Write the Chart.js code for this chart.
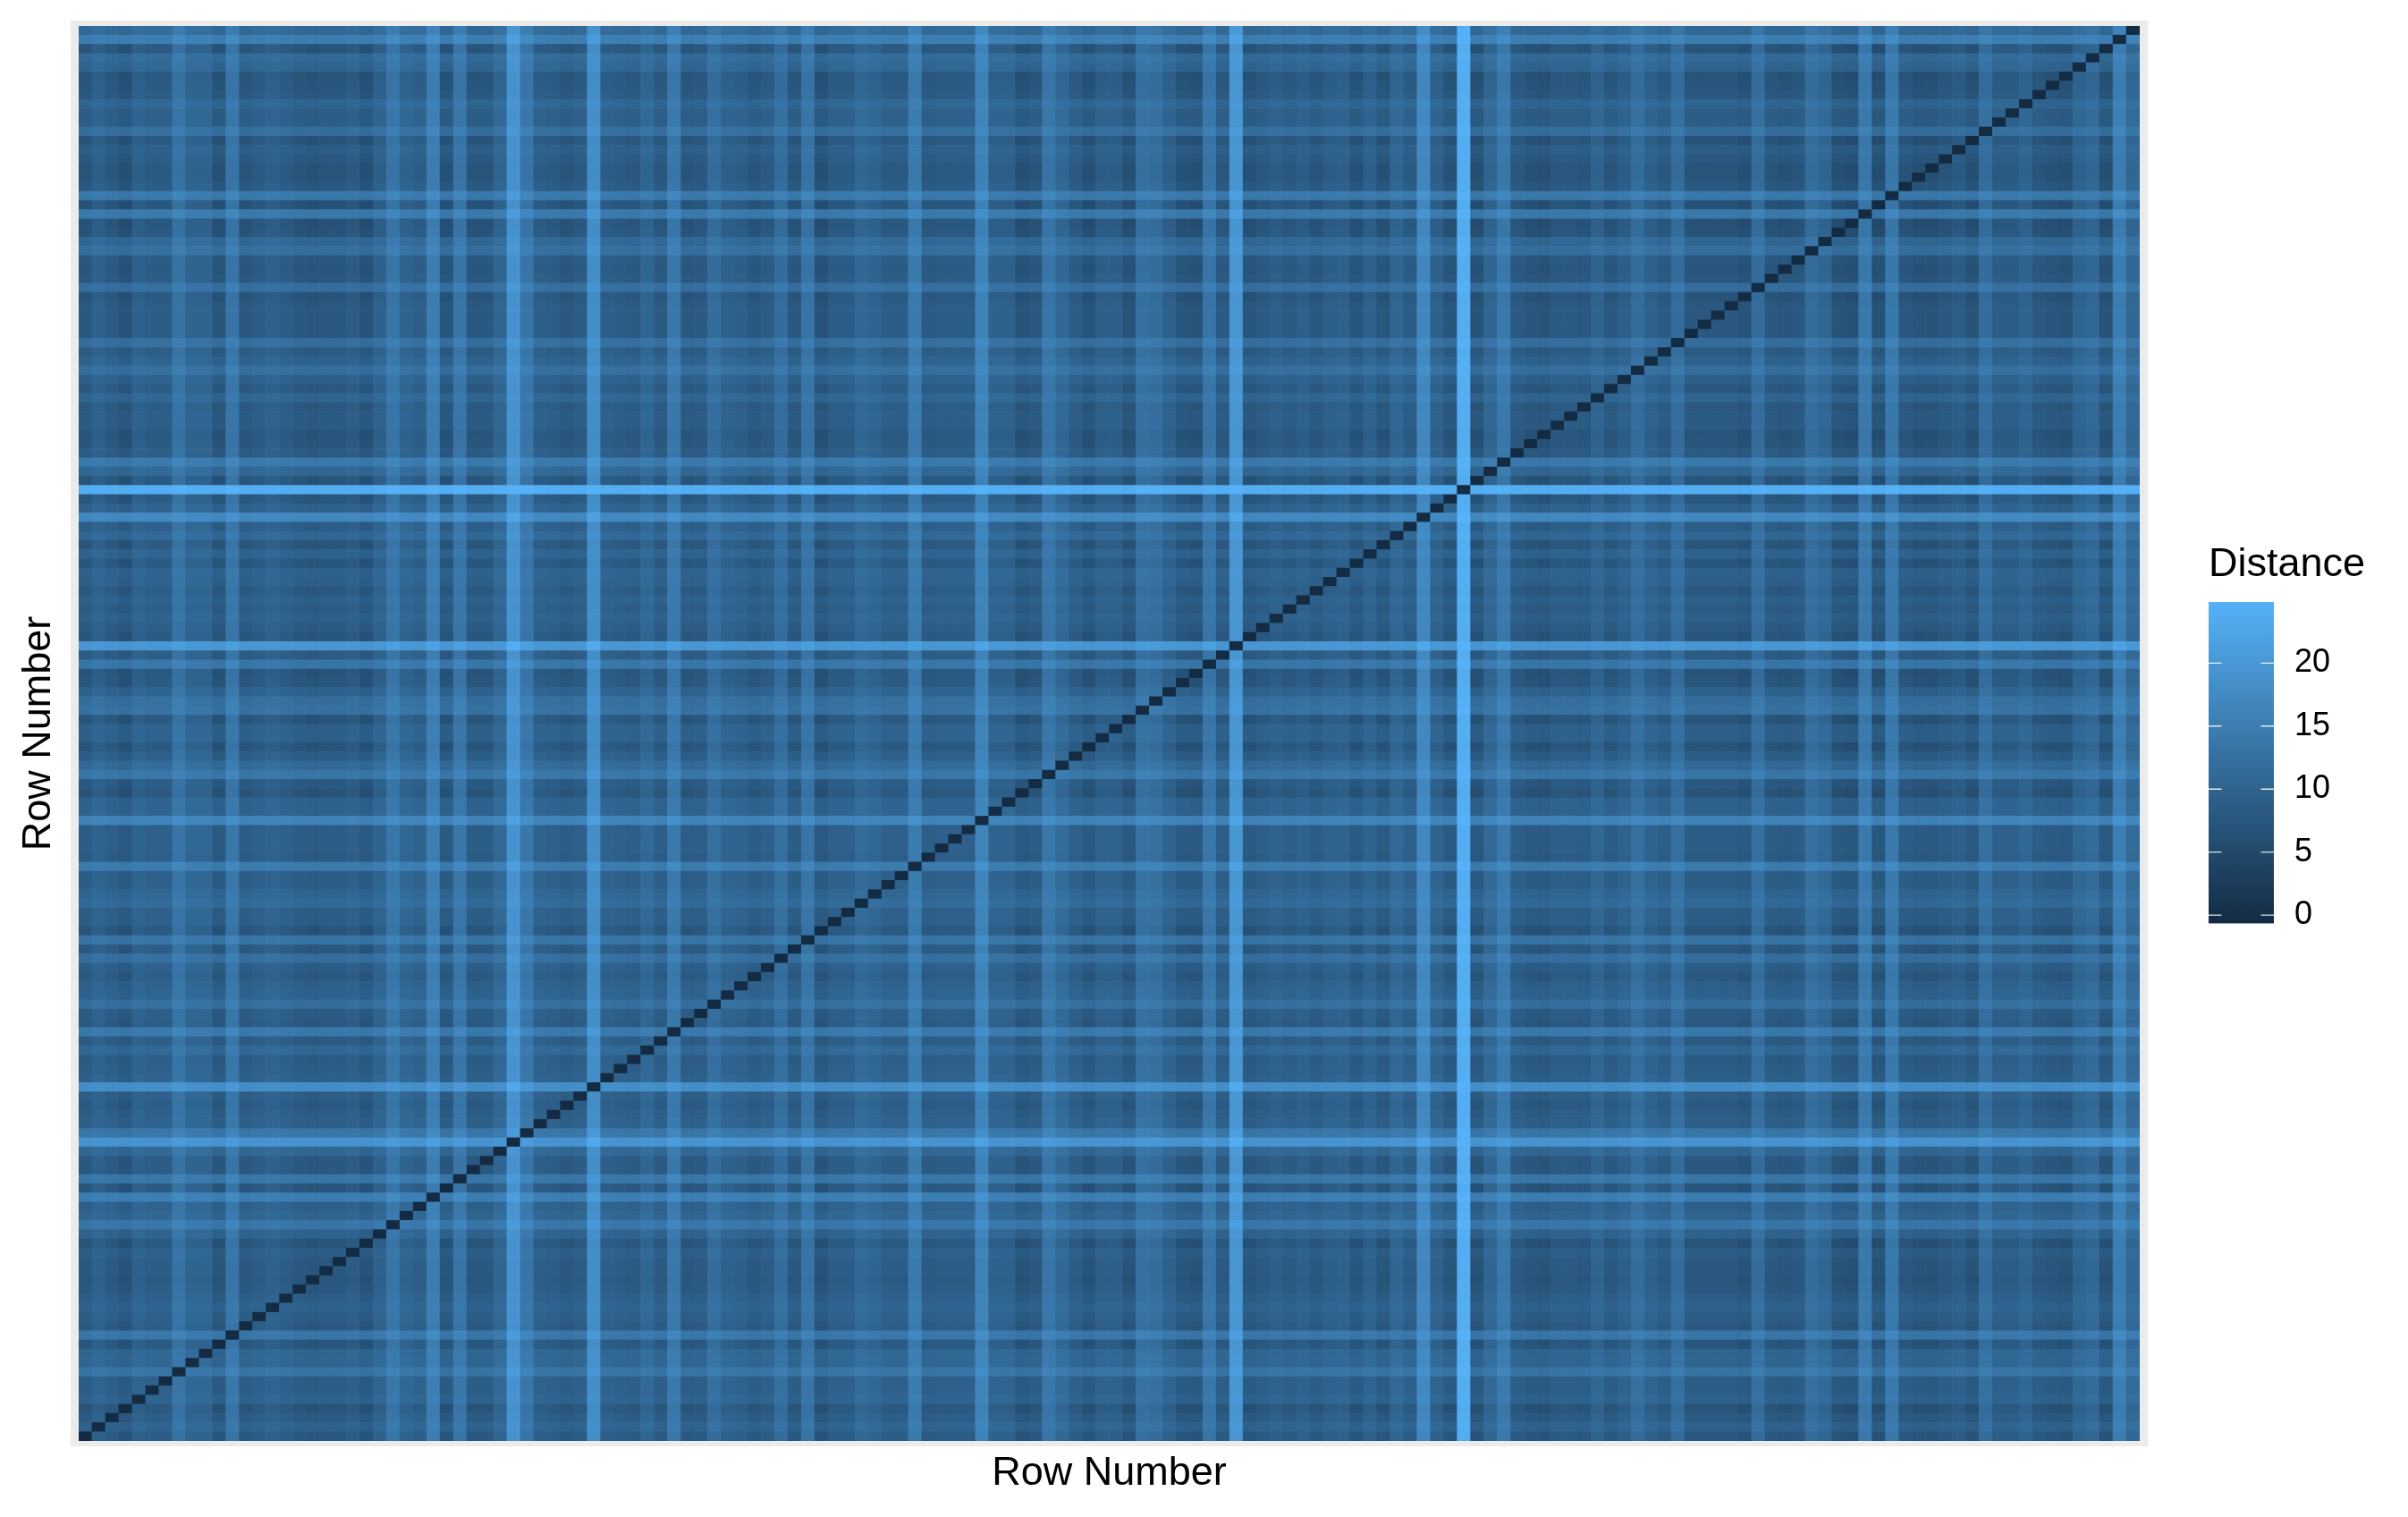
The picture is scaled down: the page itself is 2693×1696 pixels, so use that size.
<!DOCTYPE html>
<html>
<head>
<meta charset="utf-8">
<title>Distance matrix</title>
<script src="https://cdn.jsdelivr.net/npm/chart.js@4/dist/chart.umd.min.js"></script>
<style>
  html, body { margin: 0; padding: 0; background: #fff; }
  canvas { position: absolute; display: block; }
</style>
</head>
<body>
<canvas id="matrix" width="2693" height="1696" style="left:0;top:0;width:2693px;height:1696px"></canvas>
<canvas id="scale" width="233" height="472" style="left:2460px;top:605px;width:233px;height:472px"></canvas>
<script>
// estimated level of each row, bottom row first
const rowLevels = [
  6.7, 9.0, 7.3, 5.3, 9.0, 7.9, 7.9, 12.8, 9.6, 9.6, 6.0, 13.3, 6.7, 7.9, 9.0, 7.9, 6.7, 6.0, 6.7, 6.7,
  7.9, 5.3, 9.0, 13.3, 9.6, 8.5, 14.9, 6.0, 13.3, 6.7, 6.7, 10.1, 19, 13.3, 8.5, 7.9, 6.7, 7.9, 18, 8.5,
  7.9, 7.3, 10.1, 7.3, 13.8, 6.7, 7.3, 11.7, 9.0, 8.5, 6.7, 7.9, 11.7, 6.7, 12.8, 5.3, 7.9, 7.9, 10.6, 9.6,
  7.9, 7.9, 14.3, 7.3, 7.9, 7.9, 7.9, 15.9, 9.0, 9.0, 5.3, 6.7, 13.3, 10.6, 7.9, 5.3, 8.5, 8.5, 5.3, 12.3,
  11.7, 9.0, 6.0, 5.3, 13.3, 7.3, 19.5, 6.0, 7.3, 8.5, 7.3, 8.5, 6.7, 8.5, 9.0, 6.0, 9.0, 6.0, 10.1, 7.9,
  16.9, 9.0, 6.0, 24, 5.3, 10.1, 13.8, 7.3, 6.0, 5.3, 7.3, 7.3, 6.7, 9.6, 6.7, 8.5, 11.7, 9.0, 7.3, 11.7,
  6.7, 6.7, 6.7, 6.7, 5.3, 11.7, 6.7, 6.0, 6.7, 11.7, 10.1, 5.3, 4.5, 13.8, 4.5, 13.8, 6.7, 5.3, 5.3, 6.7,
  7.9, 5.3, 11.7, 7.9, 7.9, 9.6, 6.7, 6.0, 5.3, 9.6, 10.6, 5.3, 14.9, 10.6
];
const legendTicks = [0, 5, 10, 15, 20];
const legendRange = [-0.66, 24.85];
const lowColor = [19, 43, 67];
const highColor = [86, 177, 247];
const maxDistance = 25;

const FONT = '"Liberation Sans", Arial, sans-serif';

function colorFor(v) {
  const t = Math.min(v / maxDistance, 1);
  const c = lowColor.map((low, i) => Math.round(low + (highColor[i] - low) * t));
  return 'rgb(' + c.join(',') + ')';
}

// the matrix is symmetric with a zero diagonal, each cell comes from its row and column levels
function cellValue(i, j) {
  if (i === j) return 0;
  return Math.cbrt(Math.pow(rowLevels[i], 3) + Math.pow(rowLevels[j], 3));
}

const labels = rowLevels.map((_, i) => String(i + 1));
const datasets = rowLevels.map((_, i) => ({
  label: 'Row ' + (i + 1),
  data: rowLevels.map(() => 1),
  backgroundColor: rowLevels.map((_, j) => colorFor(cellValue(i, j))),
  borderWidth: 0,
  barPercentage: 1,
  categoryPercentage: 1
}));

const panelPlugin = {
  id: 'panel',
  beforeDraw(chart) {
    const a = chart.chartArea;
    const c = chart.ctx;
    c.save();
    c.fillStyle = '#EBEBEB';
    c.fillRect(a.left - 9, a.top - 6, a.width + 18, a.height + 12);
    c.restore();
  }
};

new Chart(document.getElementById('matrix').getContext('2d'), {
  type: 'bar',
  data: { labels: labels, datasets: datasets },
  plugins: [panelPlugin],
  options: {
    responsive: false,
    animation: false,
    events: [],
    devicePixelRatio: 1,
    layout: { padding: { left: 0, top: 29, right: 300, bottom: 0 } },
    plugins: { legend: { display: false }, tooltip: { enabled: false } },
    scales: {
      x: {
        stacked: true,
        grid: { display: false },
        border: { display: false },
        ticks: { display: false },
        title: { display: true, text: 'Row Number', color: '#000', font: { family: FONT, size: 45 }, padding: { top: 0, bottom: 21 } },
        afterFit(s) { s.height = 85; }
      },
      y: {
        stacked: true,
        min: 0,
        max: rowLevels.length,
        grid: { display: false },
        border: { display: false },
        ticks: { display: false },
        title: { display: true, text: 'Row Number', color: '#000', font: { family: FONT, size: 45 }, padding: { top: 17, bottom: 0 } },
        afterFit(s) { s.width = 88; }
      }
    }
  }
});

const barTicksPlugin = {
  id: 'barTicks',
  afterDatasetsDraw(chart) {
    const a = chart.chartArea;
    const y = chart.scales.y;
    const c = chart.ctx;
    c.save();
    c.strokeStyle = 'rgba(255,255,255,0.85)';
    c.lineWidth = 1.4;
    legendTicks.forEach(v => {
      const p = y.getPixelForValue(v);
      c.beginPath();
      c.moveTo(a.left, p);
      c.lineTo(a.left + 14.5, p);
      c.moveTo(a.right - 14.5, p);
      c.lineTo(a.right, p);
      c.stroke();
    });
    c.restore();
  }
};

new Chart(document.getElementById('scale').getContext('2d'), {
  type: 'bar',
  data: {
    labels: ['Distance'],
    datasets: [{
      data: [legendRange],
      borderWidth: 0,
      barPercentage: 1,
      categoryPercentage: 1,
      backgroundColor(ctx) {
        const a = ctx.chart.chartArea;
        if (!a) return colorFor(12);
        const g = ctx.chart.ctx.createLinearGradient(0, a.bottom, 0, a.top);
        g.addColorStop(0, colorFor(0));
        g.addColorStop(1, colorFor(maxDistance));
        return g;
      }
    }]
  },
  plugins: [barTicksPlugin],
  options: {
    responsive: false,
    animation: false,
    events: [],
    devicePixelRatio: 1,
    layout: { padding: { left: 10, top: 0, right: 0, bottom: 9 } },
    plugins: {
      legend: { display: false },
      tooltip: { enabled: false },
      title: { display: true, text: 'Distance', align: 'start', color: '#000', font: { family: FONT, size: 45, weight: 'normal' }, padding: { top: 0, bottom: 14 } }
    },
    scales: {
      x: { display: false },
      y: {
        position: 'right',
        min: legendRange[0],
        max: legendRange[1],
        afterBuildTicks(s) { s.ticks = legendTicks.map(v => ({ value: v })); },
        afterFit(s) { s.width = 150; },
        grid: { display: false, drawTicks: false },
        border: { display: false },
        ticks: { color: '#000', font: { family: FONT, size: 36 }, padding: 23, autoSkip: false }
      }
    }
  }
});
</script>
</body>
</html>
